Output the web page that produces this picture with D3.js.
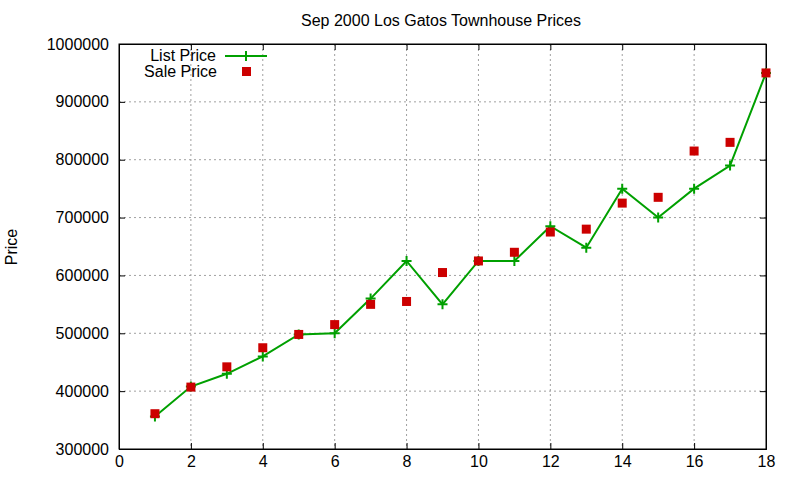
<!DOCTYPE html>
<html>
<head>
<meta charset="utf-8">
<script src="https://cdn.jsdelivr.net/npm/d3@7/dist/d3.min.js"></script>
<style>
body { margin: 0; background: #fff; }
text { font-family: "Liberation Sans", Arial, sans-serif; fill: #000; }
</style>
</head>
<body>
<script>
// data
var houses = [1, 2, 3, 4, 5, 6, 7, 8, 9, 10, 11, 12, 13, 14, 15, 16, 17, 18];
var listPrice = [356000, 408000, 430000, 460000, 498000, 500000, 560000, 625000, 550000,
    625000, 625000, 685000, 648000, 750000, 700000, 750000, 790000, 950000];
var salePrice = [361000, 407000, 442000, 475000, 498000, 515000, 550000, 555000, 605000,
    625000, 640000, 675000, 680000, 725000, 735000, 815000, 830000, 950000];
var xTicks = [0, 2, 4, 6, 8, 10, 12, 14, 16, 18];
var yTicks = [300000, 400000, 500000, 600000, 700000, 800000, 900000, 1000000];

var width = 800, height = 480;
var plotLeft = 119, plotRight = 766, plotTop = 44, plotBottom = 449;

var svg = d3.select("body")
    .append("svg")
    .attr("width", width)
    .attr("height", height);

var x = d3.scaleLinear().domain([0, 18]).range([plotLeft, plotRight]);
var y = d3.scaleLinear().domain([300000, 1000000]).range([plotBottom, plotTop]);

// grid
svg.append("g").selectAll("line")
    .data(xTicks.slice(1, -1))
    .enter().append("line")
    .attr("x1", d => x(d)).attr("x2", d => x(d))
    .attr("y1", plotTop).attr("y2", plotBottom)
    .attr("stroke", "#a0a0a0").attr("stroke-dasharray", "2,3");
svg.append("g").selectAll("line")
    .data(yTicks.slice(1, -1))
    .enter().append("line")
    .attr("x1", plotLeft).attr("x2", plotRight)
    .attr("y1", d => y(d)).attr("y2", d => y(d))
    .attr("stroke", "#a0a0a0").attr("stroke-dasharray", "2,3");

// axes, gnuplot style with mirrored ticks
svg.append("g").attr("transform", "translate(0," + plotBottom + ")")
    .call(d3.axisBottom(x).tickValues(xTicks).tickSize(-6).tickPadding(7));
svg.append("g").attr("transform", "translate(0," + plotTop + ")")
    .call(d3.axisTop(x).tickValues(xTicks).tickSize(-6).tickFormat(""));
svg.append("g").attr("transform", "translate(" + plotLeft + ",0)")
    .call(d3.axisLeft(y).tickValues(yTicks).tickSize(-6).tickPadding(10).tickFormat(d3.format("d")));
svg.append("g").attr("transform", "translate(" + plotRight + ",0)")
    .call(d3.axisRight(y).tickValues(yTicks).tickSize(-6).tickFormat(""));

svg.selectAll(".domain").attr("stroke", "#000");
svg.selectAll(".tick line").attr("stroke", "#000");
svg.selectAll(".tick text")
    .style("font-family", "'Liberation Sans', Arial, sans-serif")
    .style("font-size", "16px")
    .attr("fill", "#000");

// frame
svg.append("rect")
    .attr("x", plotLeft).attr("y", plotTop)
    .attr("width", plotRight - plotLeft).attr("height", plotBottom - plotTop)
    .attr("fill", "none").attr("stroke", "#000");

// list price line
var line = d3.line()
    .x((d, i) => x(houses[i]))
    .y(d => y(d));
svg.append("path")
    .datum(listPrice)
    .attr("d", line)
    .attr("fill", "none")
    .attr("stroke", "#00a000")
    .attr("stroke-width", 2);

svg.append("g").selectAll("path")
    .data(listPrice)
    .enter().append("path")
    .attr("d", (d, i) => "M" + (x(houses[i]) - 5) + "," + y(d) + "h10M" + x(houses[i]) + "," + (y(d) - 5) + "v10")
    .attr("stroke", "#00a000")
    .attr("stroke-width", 2);

// sale price squares
svg.append("g").selectAll("rect")
    .data(salePrice)
    .enter().append("rect")
    .attr("x", (d, i) => x(houses[i]) - 4.5)
    .attr("y", d => y(d) - 4.5)
    .attr("width", 9).attr("height", 9)
    .attr("fill", "#cc0000");

// title and labels
svg.append("text")
    .attr("x", 441).attr("y", 26)
    .attr("text-anchor", "middle")
    .style("font-size", "16px")
    .text("Sep 2000 Los Gatos Townhouse Prices");
svg.append("text")
    .attr("transform", "translate(17,247) rotate(-90)")
    .attr("text-anchor", "middle")
    .style("font-size", "16px")
    .text("Price");

// legend
var legend = svg.append("g");
legend.append("text")
    .attr("x", 216).attr("y", 61)
    .attr("text-anchor", "end")
    .style("font-size", "16px")
    .text("List Price");
legend.append("line")
    .attr("x1", 225).attr("x2", 267).attr("y1", 56).attr("y2", 56)
    .attr("stroke", "#00a000").attr("stroke-width", 2);
legend.append("path")
    .attr("d", "M241,56h10M246,51v10")
    .attr("stroke", "#00a000").attr("stroke-width", 2);
legend.append("text")
    .attr("x", 217).attr("y", 77)
    .attr("text-anchor", "end")
    .style("font-size", "16px")
    .text("Sale Price");
legend.append("rect")
    .attr("x", 242).attr("y", 67).attr("width", 9).attr("height", 9)
    .attr("fill", "#cc0000");
</script>
</body>
</html>
